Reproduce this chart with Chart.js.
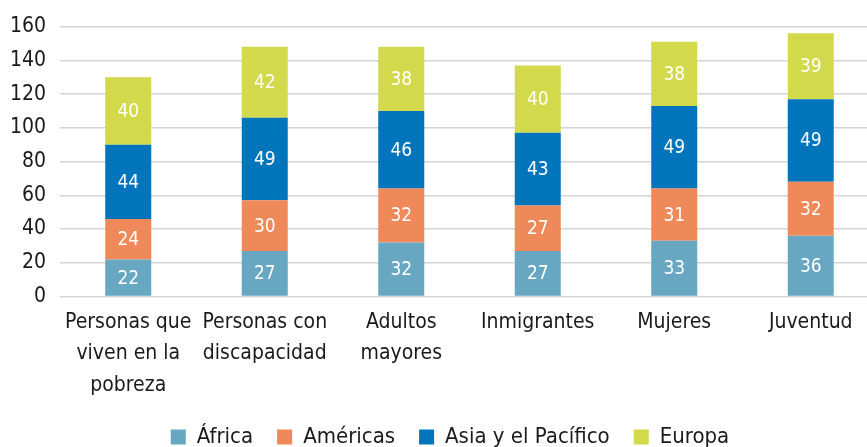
<!DOCTYPE html>
<html>
<head>
<meta charset="utf-8">
<script src="https://cdn.jsdelivr.net/npm/chart.js@4.4.1/dist/chart.umd.min.js"></script>
<style>
    html, body { margin: 0; padding: 0; background: #fff; overflow: hidden; }
    #chart { display: block; }
</style>
</head>
<body>
<canvas id="chart" width="900" height="447"></canvas>
<script>
// Chart data
const categories = [
    ['Personas que', 'viven en la', 'pobreza'],
    ['Personas con', 'discapacidad'],
    ['Adultos', 'mayores'],
    'Inmigrantes',
    'Mujeres',
    'Juventud'
];
const africa = [22, 27, 32, 27, 33, 36];
const americas = [24, 30, 32, 27, 31, 32];
const asiaPacific = [44, 49, 46, 43, 49, 49];
const europe = [40, 42, 38, 40, 38, 39];
const yTicks = [0, 20, 40, 60, 80, 100, 120, 140, 160];

const FONT = '"DejaVu Sans Condensed", "DejaVu Sans", sans-serif';

// Draw the value inside every bar segment
const barLabels = {
    id: 'barLabels',
    afterDatasetsDraw(chart) {
        const ctx = chart.ctx;
        ctx.save();
        ctx.fillStyle = '#ffffff';
        ctx.font = '19px ' + FONT;
        ctx.textAlign = 'center';
        ctx.textBaseline = 'middle';
        chart.data.datasets.forEach((ds, i) => {
            chart.getDatasetMeta(i).data.forEach((bar, j) => {
                const mid = (bar.y + bar.base) / 2;
                ctx.fillText(String(ds.data[j]), bar.x, mid + 1);
            });
        });
        ctx.restore();
    }
};

const ctx = document.getElementById('chart').getContext('2d');
new Chart(ctx, {
    type: 'bar',
    data: {
        labels: categories,
        datasets: [
            { label: 'África', data: africa, backgroundColor: '#67a7c1' },
            { label: 'Américas', data: americas, backgroundColor: '#f0895a' },
            { label: 'Asia y el Pacífico', data: asiaPacific, backgroundColor: '#0075bb' },
            { label: 'Europa', data: europe, backgroundColor: '#d2d94a' }
        ]
    },
    options: {
        responsive: false,
        animation: false,
        layout: {
            padding: { left: 0, right: 0, top: 21, bottom: -11 }
        },
        datasets: {
            bar: { barPercentage: 0.337, categoryPercentage: 1 }
        },
        plugins: {
            legend: {
                position: 'bottom',
                labels: {
                    font: { family: FONT, size: 22 },
                    color: '#1a1a1a',
                    boxWidth: 15,
                    boxHeight: 15,
                    padding: 24
                }
            },
            tooltip: { enabled: false }
        },
        scales: {
            x: {
                stacked: true,
                grid: { display: false },
                border: { display: false },
                afterFit: scale => { scale.height -= 1; },
                ticks: {
                    font: { family: FONT, size: 21, lineHeight: 1.5 },
                    color: '#1a1a1a',
                    maxRotation: 0,
                    autoSkip: false,
                    padding: 2
                }
            },
            y: {
                stacked: true,
                min: 0,
                max: 160,
                afterBuildTicks: scale => {
                    scale.ticks = yTicks.map(v => ({ value: v }));
                },
                afterFit: scale => { scale.width = 60; },
                grid: { color: '#d4d4d4', lineWidth: 1.5, drawTicks: false },
                border: { display: false },
                ticks: {
                    font: { family: FONT, size: 21 },
                    color: '#1a1a1a',
                    padding: 14
                }
            },
            // empty right axis so the plot runs past the window edge while the legend stays centred
            yRight: {
                position: 'right',
                display: true,
                grid: { display: false },
                border: { display: false },
                ticks: { display: false },
                afterFit: scale => { scale.width = 21; }
            }
        }
    },
    plugins: [barLabels]
});
</script>
</body>
</html>
